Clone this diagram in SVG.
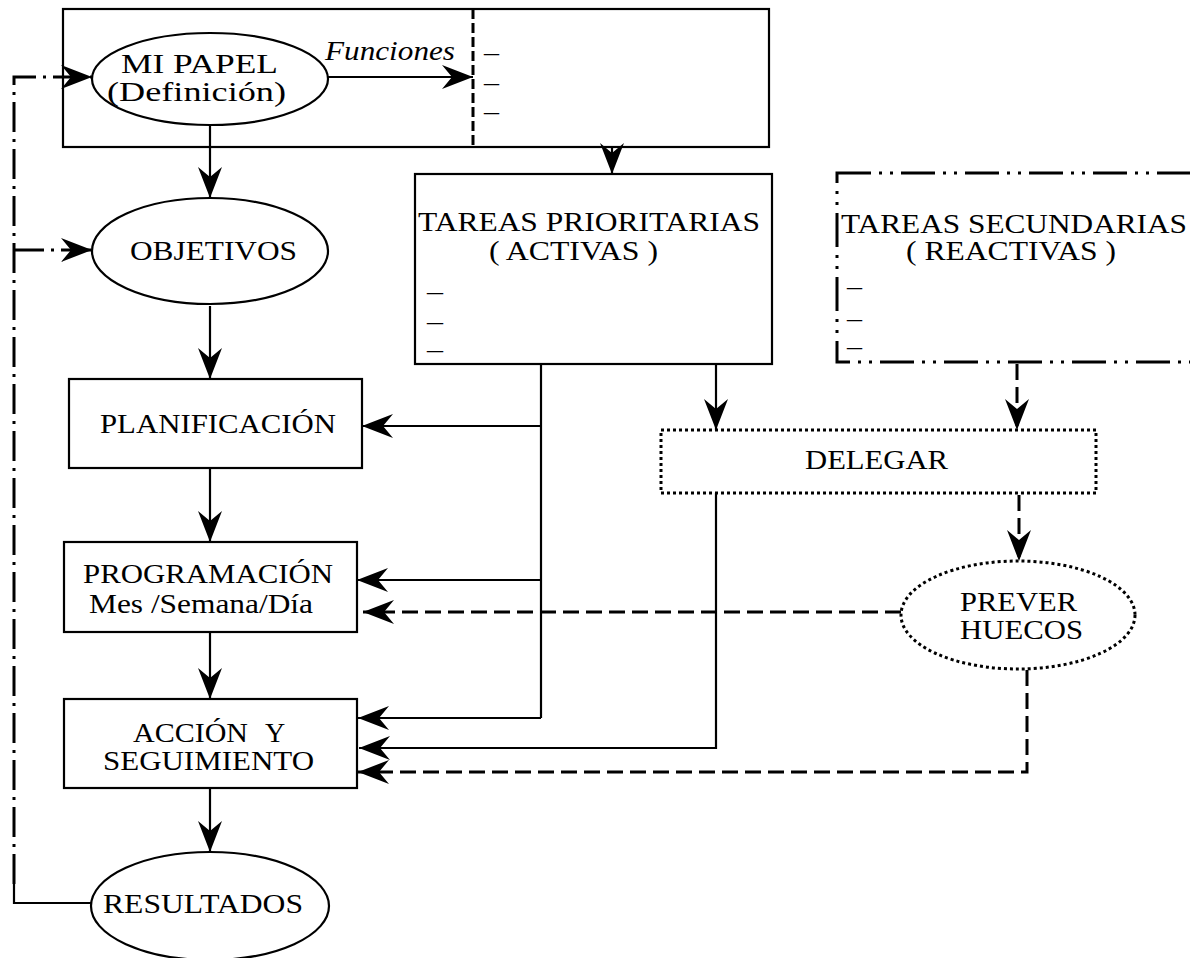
<svg xmlns="http://www.w3.org/2000/svg" width="1190" height="958" viewBox="0 0 1190 958">
  <style>
    .t { font-family: "Liberation Serif", "Times New Roman", serif; font-size: 28px; fill: #000; }
    .it { font-style: italic; font-size: 27px; }
    .box { fill: #fff; stroke: #000; stroke-width: 2.2; }
    .dot { fill: #fff; stroke: #000; stroke-width: 3; stroke-dasharray: 3 3; }
    .dashdot2 { fill: none; stroke: #000; stroke-width: 3; stroke-dasharray: 34 8 3 8 3 8; }
    .solid { fill: none; stroke: #000; stroke-width: 2.2; }
    .dash { fill: none; stroke: #000; stroke-width: 3; stroke-dasharray: 16 7; }
    .dashdot { fill: none; stroke: #000; stroke-width: 3; stroke-dasharray: 30 7 3 7; }
    .divider { fill: none; stroke: #000; stroke-width: 3; stroke-dasharray: 10 4; }
  </style>
  <defs>
    <marker id="arrow" markerUnits="userSpaceOnUse" viewBox="-32 -13 34 26" markerWidth="34" markerHeight="26" refX="0" refY="0" orient="auto">
      <path d="M0,0 L-31,-12 L-21,0 L-31,12 Z" fill="#000"/>
    </marker>
  </defs>

  <rect width="1190" height="958" fill="#fff"/>

  <!-- MI PAPEL frame with the list of functions -->
  <g id="mi-papel-frame">
    <rect class="box" x="63" y="9" width="706" height="138"/>
    <line class="divider" x1="473" y1="9" x2="473" y2="149"/>
    <text class="t" x="484" y="61" textLength="15" lengthAdjust="spacingAndGlyphs">–</text>
    <text class="t" x="484" y="91" textLength="15" lengthAdjust="spacingAndGlyphs">–</text>
    <text class="t" x="484" y="120" textLength="15" lengthAdjust="spacingAndGlyphs">–</text>
  </g>

  <g id="mi-papel">
    <ellipse class="box" cx="210" cy="79" rx="118" ry="46"/>
    <text class="t" x="121" y="73" textLength="157" lengthAdjust="spacingAndGlyphs">MI PAPEL</text>
    <text class="t" x="107" y="101" textLength="179" lengthAdjust="spacingAndGlyphs">(Definición)</text>
  </g>

  <g id="objetivos">
    <ellipse class="box" cx="210" cy="251" rx="118" ry="53"/>
    <text class="t" x="130" y="260" textLength="167" lengthAdjust="spacingAndGlyphs">OBJETIVOS</text>
  </g>

  <g id="planificacion">
    <rect class="box" x="69" y="379" width="293" height="89"/>
    <text class="t" x="100" y="433" textLength="236" lengthAdjust="spacingAndGlyphs">PLANIFICACIÓN</text>
  </g>

  <g id="programacion">
    <rect class="box" x="64" y="542" width="293" height="90"/>
    <text class="t" x="83" y="583" textLength="250" lengthAdjust="spacingAndGlyphs">PROGRAMACIÓN</text>
    <text class="t" x="89" y="613" textLength="224" lengthAdjust="spacingAndGlyphs">Mes /Semana/Día</text>
  </g>

  <g id="accion">
    <rect class="box" x="64" y="699" width="293" height="89"/>
    <text class="t" y="742"><tspan x="133" textLength="115" lengthAdjust="spacingAndGlyphs">ACCIÓN</tspan><tspan x="265">Y</tspan></text>
    <text class="t" x="103" y="770" textLength="211" lengthAdjust="spacingAndGlyphs">SEGUIMIENTO</text>
  </g>

  <g id="resultados">
    <ellipse class="box" cx="210" cy="906" rx="119" ry="54"/>
    <text class="t" x="103" y="913" textLength="200" lengthAdjust="spacingAndGlyphs">RESULTADOS</text>
  </g>

  <g id="tareas-prioritarias">
    <rect class="box" x="415" y="174" width="357" height="190"/>
    <text class="t" x="418" y="231" textLength="342" lengthAdjust="spacingAndGlyphs">TAREAS PRIORITARIAS</text>
    <text class="t" x="489" y="260" textLength="169" lengthAdjust="spacingAndGlyphs">( ACTIVAS )</text>
    <text class="t" x="427" y="300" textLength="16" lengthAdjust="spacingAndGlyphs">–</text>
    <text class="t" x="427" y="330" textLength="16" lengthAdjust="spacingAndGlyphs">–</text>
    <text class="t" x="427" y="358" textLength="16" lengthAdjust="spacingAndGlyphs">–</text>
  </g>

  <g id="tareas-secundarias">
    <rect class="dashdot2" x="837" y="173" width="360" height="189"/>
    <text class="t" x="841" y="233" textLength="346" lengthAdjust="spacingAndGlyphs">TAREAS SECUNDARIAS</text>
    <text class="t" x="906" y="260" textLength="210" lengthAdjust="spacingAndGlyphs">( REACTIVAS )</text>
    <text class="t" x="847" y="295" textLength="15" lengthAdjust="spacingAndGlyphs">–</text>
    <text class="t" x="847" y="327" textLength="15" lengthAdjust="spacingAndGlyphs">–</text>
    <text class="t" x="847" y="355" textLength="15" lengthAdjust="spacingAndGlyphs">–</text>
  </g>

  <g id="delegar">
    <rect class="dot" x="661" y="430" width="435" height="63"/>
    <text class="t" x="805" y="469" textLength="143" lengthAdjust="spacingAndGlyphs">DELEGAR</text>
  </g>

  <g id="prever-huecos">
    <ellipse class="dot" cx="1018" cy="615" rx="117" ry="54"/>
    <text class="t" x="960" y="611" textLength="117" lengthAdjust="spacingAndGlyphs">PREVER</text>
    <text class="t" x="960" y="639" textLength="123" lengthAdjust="spacingAndGlyphs">HUECOS</text>
  </g>

  <g id="connectors">
    <!-- role definition to its list of functions -->
    <line class="solid" x1="328" y1="77" x2="473" y2="77" marker-end="url(#arrow)"/>
    <text class="t it" x="325" y="60" textLength="130" lengthAdjust="spacingAndGlyphs">Funciones</text>

    <!-- main vertical flow -->
    <line class="solid" x1="210" y1="125" x2="210" y2="198" marker-end="url(#arrow)"/>
    <line class="solid" x1="210" y1="306" x2="210" y2="379" marker-end="url(#arrow)"/>
    <line class="solid" x1="210" y1="469" x2="210" y2="542" marker-end="url(#arrow)"/>
    <line class="solid" x1="210" y1="633" x2="210" y2="699" marker-end="url(#arrow)"/>
    <line class="solid" x1="210" y1="789" x2="210" y2="852" marker-end="url(#arrow)"/>
    <line class="solid" x1="612" y1="147" x2="612" y2="174" marker-end="url(#arrow)"/>

    <!-- priority tasks feed the planning column -->
    <path class="solid" d="M541,364 V718"/>
    <line class="solid" x1="541" y1="426" x2="362" y2="426" marker-end="url(#arrow)"/>
    <line class="solid" x1="541" y1="580" x2="357" y2="580" marker-end="url(#arrow)"/>
    <path class="solid" d="M541,718 H358" marker-end="url(#arrow)"/>

    <!-- delegation -->
    <line class="solid" x1="716" y1="364" x2="716" y2="430" marker-end="url(#arrow)"/>
    <path class="solid" d="M716,493 V748 H359" marker-end="url(#arrow)"/>
    <line class="dash" x1="1017" y1="364" x2="1017" y2="430" marker-end="url(#arrow)"/>
    <line class="dash" x1="1019" y1="495" x2="1019" y2="561" marker-end="url(#arrow)"/>

    <!-- gaps foreseen -->
    <line class="dash" x1="901" y1="612" x2="363" y2="612" marker-end="url(#arrow)"/>
    <path class="dash" d="M1027,670 V772 H358" marker-end="url(#arrow)"/>

    <!-- feedback loop from results -->
    <path class="solid" d="M91,903 H14 V884"/>
    <path class="dashdot" d="M14,884 V77 H92" marker-end="url(#arrow)"/>
    <line class="dashdot" x1="14" y1="250" x2="92" y2="250" marker-end="url(#arrow)"/>
  </g>
</svg>
